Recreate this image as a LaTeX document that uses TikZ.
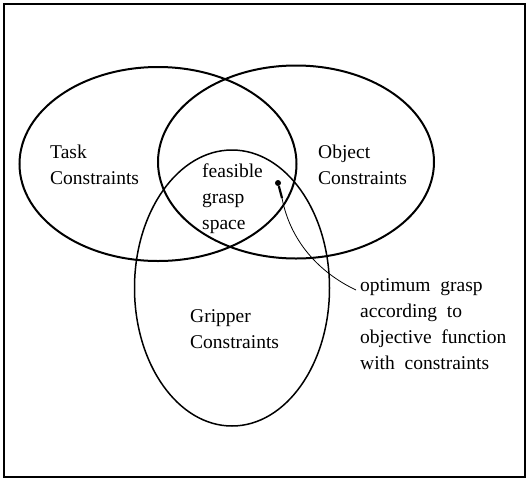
\documentclass[tikz,border=0pt]{standalone}
\usepackage{fontspec}
\setmainfont{Liberation Serif}
\usetikzlibrary{shapes.geometric}
\begin{document}
\begin{tikzpicture}[x=1pt,y=-1pt,
  venn/.style={draw,ellipse,line width=2pt,inner sep=0pt},
  lbl/.style={font=\fontsize{19.5}{26}\selectfont,align=left,inner sep=0pt}]
\useasboundingbox (0,0) rectangle (528,480);
\draw[line width=1.3pt] (4,4) rectangle (525,477);
\node[venn,minimum width=277pt,minimum height=194pt] (task) at (158,164) {};
\node[venn,minimum width=276pt,minimum height=193pt] (object) at (296,162) {};
\node[venn,line width=1.5pt,minimum width=195pt,minimum height=276pt] (gripper) at (232,288) {};
\node[lbl,anchor=west] (tasklbl) at (50,165) {Task\\Constraints};
\node[lbl,anchor=west] (objlbl) at (318,165) {Object\\Constraints};
\node[lbl,anchor=west] (feas) at (202,199) {feasible\\grasp\\space};
\node[lbl,anchor=west] (griplbl) at (190,329) {Gripper\\Constraints};
\node[lbl,anchor=north west] (anno) at (360,278) {optimum\ \ grasp\\according\ \ to\\objective\ \ function\\with\ \ constraints};
\node[circle,fill,inner sep=0pt,minimum size=6pt] (dot) at (278,183) {};
\coordinate (bend) at (282,198);
\coordinate (tip) at (356,290);
\draw[line width=2.2pt] (dot) -- (bend);
\draw[line width=0.8pt] (bend) .. controls (290,240) and (318,272) .. (tip);
\end{tikzpicture}
\end{document}
